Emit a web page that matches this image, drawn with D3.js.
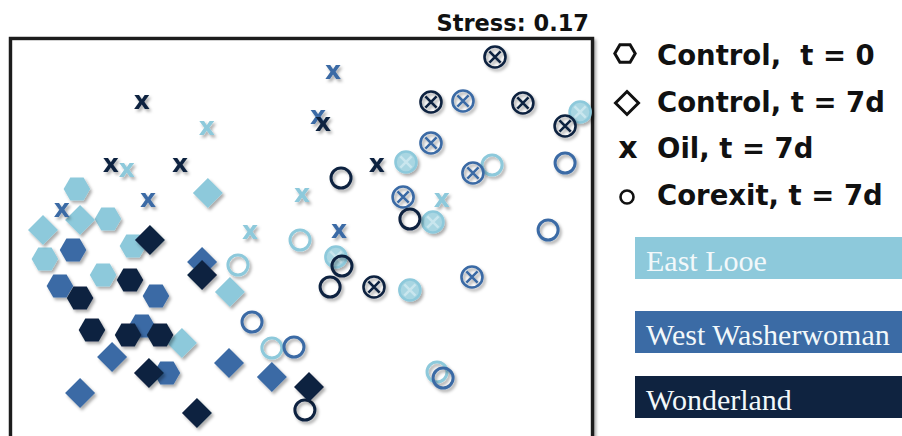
<!DOCTYPE html>
<html>
<head>
<meta charset="utf-8">
<script src="https://cdn.jsdelivr.net/npm/d3@7/dist/d3.min.js"></script>
<style>
  html, body { margin: 0; padding: 0; background: #fff; }
  svg { display: block; }
</style>
</head>
<body>
<script>
// NMDS ordination of reef communities by site and treatment.
const sites = ["East Looe", "West Washerwoman", "Wonderland"];
const siteColors = ["#8dc9db", "#3b6ba5", "#0f2340"];
const legendLabels = ["Control,  t = 0", "Control, t = 7d", "Oil, t = 7d", "Corexit, t = 7d"];
const stressLabel = "Stress: 0.17";

// Each point: [site index, NMDS1, NMDS2]
const controlT0 = [
  [0, -0.924, 0.196], [0, -0.796, 0.076], [0, -1.056, -0.084], [0, -0.693, -0.032], [0, -0.816, -0.148],
  [1, -0.940, -0.048], [1, -0.994, -0.192], [1, -0.598, -0.232], [1, -0.656, -0.352], [1, -0.553, -0.540],
  [2, -0.705, -0.168], [2, -0.911, -0.240], [2, -0.862, -0.368], [2, -0.713, -0.388], [2, -0.581, -0.388]
];
const control7d = [
  [0, -0.911, 0.072], [0, -1.064, 0.032], [0, -0.384, 0.180], [0, -0.293, -0.216], [0, -0.491, -0.420],
  [1, -0.779, -0.476], [1, -0.911, -0.620], [1, -0.297, -0.500], [1, -0.120, -0.556], [1, -0.408, -0.096],
  [2, -0.623, -0.008], [2, -0.408, -0.148], [2, -0.627, -0.540], [2, -0.429, -0.700], [2, 0.033, -0.596]
];
const oil7d = [
  [0, -0.388, 0.440], [0, -0.718, 0.272], [0, 0.004, 0.172], [0, 0.581, 0.152], [0, -0.210, 0.024],
  [1, -0.631, 0.152], [1, -0.986, 0.112], [1, 0.132, 0.664], [1, 0.070, 0.484], [1, 0.157, 0.028],
  [2, -0.656, 0.544], [2, -0.784, 0.292], [2, -0.499, 0.292], [2, 0.091, 0.456], [2, 0.313, 0.292]
];
const corexit7d = [
  [0, -0.004, -0.008], [0, 0.788, 0.292], [0, -0.260, -0.108], [0, -0.120, -0.440], [0, 0.561, -0.536],
  [1, 1.089, 0.300], [1, 1.019, 0.032], [1, 0.586, -0.560], [1, -0.029, -0.436], [1, -0.202, -0.336],
  [2, 0.165, 0.240], [2, 0.449, 0.076], [2, 0.169, -0.112], [2, 0.120, -0.196], [2, 0.016, -0.688]
];
const oilCorexit7d = [
  [0, 1.151, 0.504], [0, 0.433, 0.304], [0, 0.544, 0.064], [0, 0.144, -0.076], [0, 0.449, -0.208],
  [1, 0.668, 0.548], [1, 0.536, 0.380], [1, 0.709, 0.260], [1, 0.421, 0.164], [1, 0.705, -0.156],
  [2, 0.800, 0.724], [2, 0.536, 0.544], [2, 0.915, 0.540], [2, 1.089, 0.448], [2, 0.301, -0.196]
];

const W = 902, H = 436;
const svg = d3.select("body").append("svg").attr("width", W).attr("height", H);

const defs = svg.append("defs");
defs.append("filter").attr("id", "shadow")
  .attr("x", "-50%").attr("y", "-50%").attr("width", "200%").attr("height", "200%")
  .append("feDropShadow")
  .attr("dx", 2).attr("dy", 2.5).attr("stdDeviation", 1.4)
  .attr("flood-color", "#000").attr("flood-opacity", 0.33);

const x = d3.scaleLinear().domain([-1.2, 1.2]).range([10, 592]);
const y = d3.scaleLinear().domain([-0.8, 0.8]).range([438, 38]);

// Plot frame
svg.append("rect")
  .attr("x", 10.5).attr("y", 38.5).attr("width", 582).attr("height", 420)
  .attr("fill", "#fff").attr("stroke", "#1b1b1b").attr("stroke-width", 3.4)
  .attr("filter", "url(#shadow)");

svg.append("text")
  .attr("x", 589).attr("y", 31)
  .attr("text-anchor", "end")
  .attr("font-family", "DejaVu Sans, Verdana, sans-serif")
  .attr("font-weight", "bold").attr("font-size", 22.5)
  .attr("fill", "#111")
  .text(stressLabel);

function hexPath(r) {
  const h = r * Math.sqrt(3) / 2;
  return `M${-r},0L${-r / 2},${-h}L${r / 2},${-h}L${r},0L${r / 2},${h}L${-r / 2},${h}Z`;
}
function diamondPath(s) {
  return `M0,${-s}L${s},0L0,${s}L${-s},0Z`;
}
function crossPath(w, h) {
  return `M${-w},${-h}L${w},${h}M${w},${-h}L${-w},${h}`;
}

const lightFill = "#a9d6e2";
const markers = {
  hex(g, c) {
    g.append("path").attr("d", hexPath(13.3)).attr("fill", c);
  },
  diamond(g, c) {
    g.append("path").attr("d", diamondPath(15)).attr("fill", c);
  },
  circle(g, c) {
    g.append("circle").attr("r", 10).attr("fill", "none").attr("stroke", c).attr("stroke-width", 3);
  },
  ox(g, c, si) {
    g.append("circle").attr("r", 10.5)
      .attr("fill", si === 0 ? lightFill : "none")
      .attr("stroke", c).attr("stroke-width", 2.6);
    g.append("path").attr("d", crossPath(5.6, 5.6))
      .attr("stroke", si === 0 ? "#c9e6ee" : c).attr("stroke-width", 2.6).attr("fill", "none");
  },
  // Oil samples are plotted with a bold "x" glyph
  cross(g, c) {
    g.append("text").attr("text-anchor", "middle").attr("y", 7)
      .attr("font-family", "DejaVu Sans, Verdana, sans-serif")
      .attr("font-weight", "bold").attr("font-size", 25)
      .attr("fill", c).text("x");
  }
};

const layers = [
  ["hex", controlT0],
  ["circle", corexit7d],
  ["ox", oilCorexit7d],
  ["cross", oil7d],
  ["diamond", control7d]
];

const plot = svg.append("g");
sites.forEach((_, si) => {
  layers.forEach(([kind, data]) => {
    data.filter(d => d[0] === si).forEach(d => {
      const g = plot.append("g")
        .attr("transform", `translate(${x(d[1])},${y(d[2])})`)
        .attr("filter", "url(#shadow)");
      markers[kind](g, siteColors[si], si);
    });
  });
});

// Treatment legend
const legend = svg.append("g");
const rowBase = [65, 112, 158, 205];
const iconX = 626;
legend.append("path").attr("d", hexPath(10.2))
  .attr("transform", `translate(${iconX - 1},${rowBase[0] - 11.5})`)
  .attr("fill", "none").attr("stroke", "#111").attr("stroke-width", 3);
legend.append("path").attr("d", diamondPath(11.5))
  .attr("transform", `translate(${iconX + 1},${rowBase[1] - 9})`)
  .attr("fill", "none").attr("stroke", "#111").attr("stroke-width", 3);
legend.append("text").attr("x", iconX + 2).attr("y", rowBase[2])
  .attr("text-anchor", "middle")
  .attr("font-family", "DejaVu Sans, Verdana, sans-serif")
  .attr("font-weight", "bold").attr("font-size", 30).attr("fill", "#111").text("x");
legend.append("circle").attr("cx", iconX + 1).attr("cy", rowBase[3] - 8).attr("r", 6.5)
  .attr("fill", "none").attr("stroke", "#111").attr("stroke-width", 2.6);

legend.selectAll("text.lab").data(legendLabels).join("text")
  .attr("class", "lab")
  .attr("x", 657).attr("y", (d, i) => rowBase[i])
  .attr("font-family", "DejaVu Sans, Verdana, sans-serif")
  .attr("font-weight", "bold").attr("font-size", 27.5)
  .attr("fill", "#111")
  .style("white-space", "pre")
  .text(d => d);

// Site legend
const boxY = [237, 311, 376];
const boxes = svg.append("g").selectAll("g").data(sites).join("g")
  .attr("transform", (d, i) => `translate(635,${boxY[i]})`);
boxes.append("rect").attr("width", 280).attr("height", 42)
  .attr("fill", (d, i) => siteColors[i]);
boxes.append("text").attr("x", 11).attr("y", 34)
  .attr("font-family", "Liberation Serif, Times New Roman, serif")
  .attr("font-size", 30).attr("fill", "#f2f8fa")
  .text(d => d);
</script>
</body>
</html>
